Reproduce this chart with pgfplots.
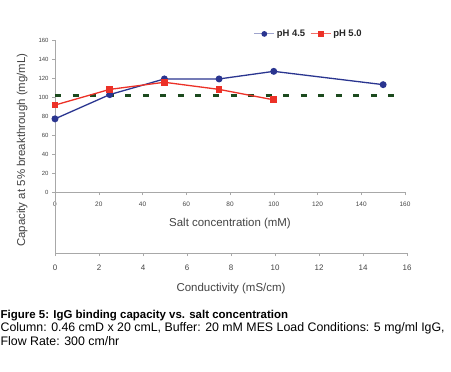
\documentclass[border=0pt]{standalone}
\usepackage{fontspec}
\setmainfont{Liberation Sans}
\usepackage{pgfplots}
\pgfplotsset{compat=1.18}
\definecolor{phblue}{HTML}{2A3590}
\definecolor{phred}{HTML}{EC3127}
\definecolor{dgreen}{HTML}{1C4A1E}
\definecolor{axgray}{HTML}{A8A8A8}
\definecolor{tickgray}{HTML}{444444}
\begin{document}
\begin{tikzpicture}[x=1bp,y=1bp]
\useasboundingbox (0,0) rectangle (451,371);
\fill[white] (0,0) rectangle (451,371);
\begin{axis}[
  name=main,
  at={(55bp,179bp)}, anchor=south west,
  scale only axis, width=350bp, height=152bp,
  xmin=0, xmax=160, ymin=0, ymax=160,
  axis x line=bottom, axis y line=left,
  axis line style={axgray,-},
  xtick={0,20,...,160}, ytick={0,20,...,160},
  tick style={axgray},
  tick align=outside, major tick length=3bp,
  /pgf/number format/assume math mode=true,
  x tick label style={font=\fontsize{6.5}{7}\selectfont, text=tickgray, yshift=-3bp},
  y tick label style={font=\fontsize{6}{7}\selectfont, text=tickgray},
  xlabel={Salt concentration (mM)},
  xlabel style={at={(axis description cs:0.5,-0.21)}, anchor=center, font=\fontsize{11.5}{13}\selectfont, text=tickgray},
  ylabel={Capacity at 5\% breakthrough (mg/mL)},
  ylabel style={at={(axis description cs:-0.094,0.276)}, anchor=center, font=\fontsize{11.5}{13}\selectfont, text=tickgray},
  legend style={at={(axis description cs:0.725,1.04)}, anchor=center, draw=none, fill=none, font=\bfseries\fontsize{9.5}{10}\selectfont, text=black!85, legend columns=2, /tikz/every even column/.append style={column sep=3bp}},
  clip=false,
]
\addplot[dgreen, line width=3bp, dash pattern=on 6bp off 11.55bp, forget plot] coordinates {(0,102) (160.3,102)};
\addplot[phblue, line width=1.3bp, mark=*, mark size=2.8bp, mark options={fill=phblue},
  legend image code/.code={\draw[phblue!45, line width=0.9bp] (0bp,0bp) -- (20bp,0bp); \fill[phblue] (10bp,0bp) circle (2.2bp);}] coordinates {
(0,77) (25,102.5) (50,119) (75,119) (100,127) (150,113)};
\addlegendentry{pH 4.5}
\addplot[phred, line width=1.3bp, mark=square*, mark size=2.7bp, mark options={fill=phred},
  legend image code/.code={\draw[phred!70, line width=1.1bp] (0bp,0bp) -- (20bp,0bp); \fill[phred] (7.8bp,-2.2bp) rectangle (12.2bp,2.2bp);}] coordinates {
(0,91.5) (25,108) (50,115.5) (75,108) (100,97)};
\addlegendentry{pH 5.0}
\end{axis}
\begin{axis}[
  name=cond,
  at={(55bp,118bp)}, anchor=south west,
  scale only axis, width=352bp, height=10bp,
  xmin=0, xmax=16, ymin=0, ymax=1,
  axis x line=bottom, axis y line=none,
  axis line style={axgray,-},
  xtick={0,2,...,16}, ytick=\empty,
  tick style={axgray},
  tick align=outside, major tick length=3bp,
  /pgf/number format/assume math mode=true,
  x tick label style={font=\fontsize{8}{9}\selectfont, text=tickgray, yshift=-5bp},
  xlabel={Conductivity (mS/cm)},
  xlabel style={at={(axis description cs:0.5,-3.6)}, anchor=center, font=\fontsize{11.5}{13}\selectfont, text=tickgray},
]
\addplot[draw=none, forget plot] coordinates {(0,0) (16,0)};
\end{axis}
\draw[axgray] (55,118) -- (55,179);
\node[anchor=west, font=\bfseries\fontsize{11.5}{13}\selectfont, inner sep=0pt] at (0.5,55.5) {Figure 5: IgG binding capacity vs. salt concentration};
\node[anchor=west, font=\fontsize{12.4}{14}\selectfont, inner sep=0pt] at (0.5,43) {Column: 0.46 cmD x 20 cmL, Buffer: 20 mM MES Load Conditions: 5 mg/ml IgG,};
\node[anchor=west, font=\fontsize{12.4}{14}\selectfont, inner sep=0pt] at (0.5,30) {Flow Rate: 300 cm/hr};
\end{tikzpicture}
\end{document}
